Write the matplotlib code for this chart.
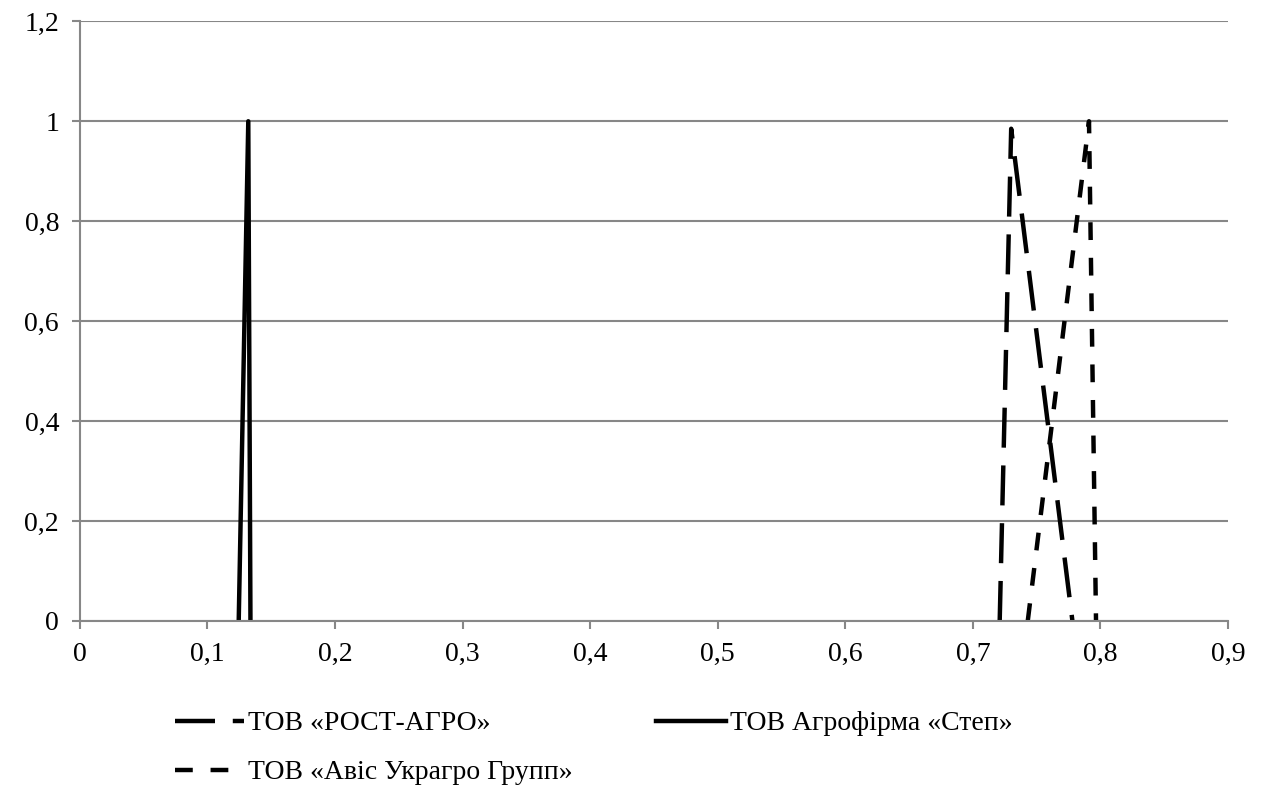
import matplotlib.pyplot as plt
from matplotlib.ticker import FuncFormatter

# membership functions (x, mu)
rost_x = [0.721, 0.730, 0.778]
rost_y = [0, 0.985, 0]
step_x = [0.1245, 0.132, 0.1337]
step_y = [0, 1, 0]
avis_x = [0.743, 0.791, 0.7965]
avis_y = [0, 1, 0]

names = ['ТОВ «РОСТ-АГРО»', 'ТОВ «Авіс Украгро Групп»', 'ТОВ Агрофірма «Степ»']

x_ticks = [0, 0.1, 0.2, 0.3, 0.4, 0.5, 0.6, 0.7, 0.8, 0.9]
y_ticks = [0, 0.2, 0.4, 0.6, 0.8, 1.0, 1.2]

plt.rcParams['font.family'] = ['Liberation Serif', 'DejaVu Serif']
grey = '#878787'

fig = plt.figure(figsize=(12.68, 7.89), dpi=100)
ax = fig.add_axes([0.063, 0.213, 0.9055, 0.760])

l1, = ax.plot(rost_x, rost_y, c='k', lw=3.2, dashes=(9, 4), label=names[0])
l3, = ax.plot(avis_x, avis_y, c='k', lw=3.2, dashes=(4, 4), label=names[1])
l2, = ax.plot(step_x, step_y, c='k', lw=3.2, label=names[2])

ax.set_xlim(0, 0.9)
ax.set_ylim(0, 1.2)
ax.set_xticks(x_ticks)
ax.set_yticks(y_ticks)
fmt = FuncFormatter(lambda v, p: ('%g' % round(v, 2)).replace('.', ','))
ax.xaxis.set_major_formatter(fmt)
ax.yaxis.set_major_formatter(fmt)

ax.yaxis.grid(True, color=grey, lw=1.5)
ax.set_axisbelow(True)
for s in ['top', 'right']:
    ax.spines[s].set_visible(False)
for s in ['left', 'bottom']:
    ax.spines[s].set_color(grey)
    ax.spines[s].set_linewidth(1.5)
ax.tick_params(axis='both', direction='out', length=6, width=1.5, color=grey,
               labelsize=20, pad=9)

fig.legend(handles=[l1, l3, l2], ncol=2, frameon=False, fontsize=20,
           loc='upper left', bbox_to_anchor=(0.129, 0.113), handlelength=2.5,
           handletextpad=0.15, columnspacing=3.0, labelspacing=0.85,
           borderaxespad=0)

fig.savefig('out.png', dpi=100)
